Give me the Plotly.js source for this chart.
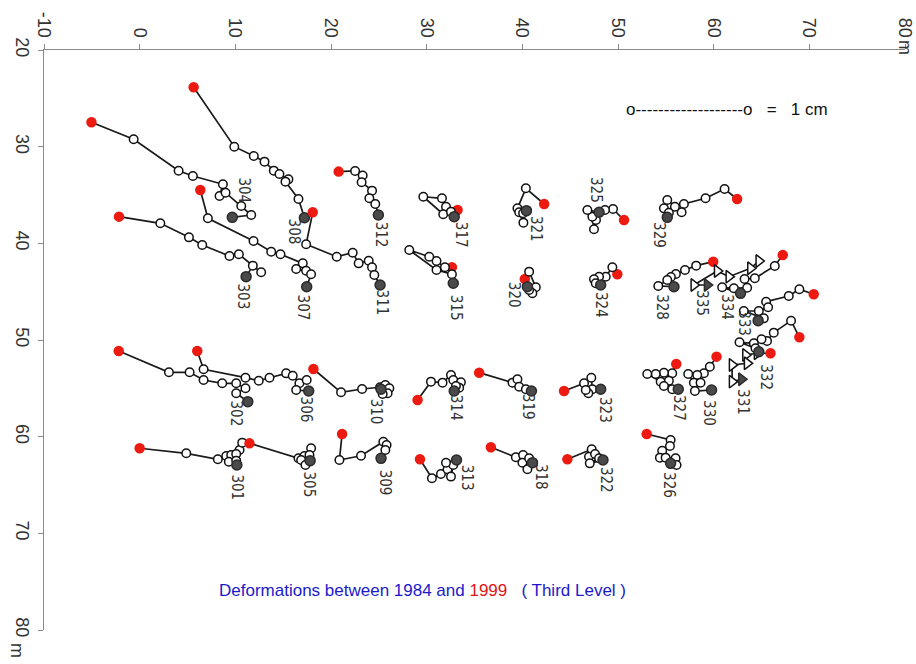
<!DOCTYPE html>
<html>
<head>
<meta charset="utf-8">
<script src="https://cdn.plot.ly/plotly-3.0.1.min.js"></script>
<style>html,body{margin:0;padding:0;background:#fff;}#chart{width:916px;height:664px;}</style>
</head>
<body>
<div id="chart"></div>
<script>
// ---- axis ticks ----
const xTickVals = [-10, 0, 10, 20, 30, 40, 50, 60, 70, 80];
const xTickText = ['-10', '0', '10', '20', '30', '40', '50', '60', '70', '80'];
const yTickVals = [20, 30, 40, 50, 60, 70, 80];
const yTickText = ['20', '30', '40', '50', '60', '70', '80'];
const unitText = 'm';

// ---- station paths (metres). first point = 1999 (red) unless noted, last point = 1984 (dark) ----
const x301 = [0.0, 4.87, 8.17, 9.05, 9.57, 10.44, 10.72, 10.09, 9.32, 10.09, 10.16];
const y301 = [61.20, 61.72, 62.34, 62.0, 61.89, 61.38, 60.62, 61.79, 62.59, 62.48, 62.93];
const x302 = [-2.19, 3.06, 5.22, 6.68, 8.63, 10.09, 11.06, 10.09, 11.30];
const y302 = [51.14, 53.34, 53.34, 54.14, 54.48, 54.48, 55.0, 55.51, 56.38];
const x303 = [-2.16, 2.16, 5.15, 6.54, 9.39, 10.37, 12.70, 11.83, 11.13];
const y303 = [37.24, 37.93, 39.38, 40.17, 41.31, 41.13, 43.0, 42.31, 43.45];
const x304 = [-5.04, -0.63, 4.07, 5.56, 8.70, 8.35, 8.98, 10.62, 11.66, 9.68];
const y304 = [27.48, 29.24, 32.49, 33.03, 33.89, 35.10, 34.76, 36.14, 37.07, 37.31];
const x305 = [11.48, 16.60, 17.22, 17.92, 17.75, 16.88, 17.33, 17.82];
const y305 = [60.69, 62.24, 62.0, 61.20, 61.89, 62.41, 62.93, 62.48];
const x306 = [6.02, 6.68, 11.06, 12.45, 13.57, 15.31, 16.0, 16.70, 17.46, 16.36, 17.67];
const y306 = [51.14, 53.03, 53.90, 54.21, 53.90, 53.45, 53.69, 54.48, 54.14, 55.17, 55.28];
const x307 = [6.34, 7.13, 11.90, 13.75, 14.72, 17.05, 16.36, 17.40, 17.92, 17.46];
const y307 = [34.48, 37.41, 39.76, 40.87, 41.13, 42.07, 42.66, 42.83, 43.20, 44.49];
const x308 = [5.64, 9.89, 11.93, 13.05, 14.02, 14.61, 15.55, 15.24, 16.60, 17.22];
const y308 = [23.86, 30.00, 30.96, 31.55, 32.48, 32.83, 33.38, 33.62, 35.41, 37.35];
const x309 = [21.16, 20.88, 23.14, 25.47, 25.81, 25.68, 25.23];
const y309 = [59.72, 62.41, 61.97, 60.52, 60.86, 61.38, 62.24];
const x310 = [18.16, 21.05, 23.25, 25.13, 25.68, 26.10, 25.92, 25.40, 25.23];
const y310 = [53.0, 55.41, 55.07, 54.89, 54.65, 55.0, 55.51, 55.58, 55.10];
const x311 = [18.09, 17.40, 20.60, 22.27, 22.89, 23.94, 24.29, 24.53, 25.13];
const y311 = [36.79, 40.10, 41.38, 40.97, 42.07, 41.80, 42.48, 43.28, 44.31];
const x312 = [20.80, 22.52, 23.31, 23.20, 24.29, 24.01, 24.63, 24.95];
const y312 = [32.58, 32.51, 32.99, 33.68, 34.55, 35.34, 35.93, 37.07];
const x313 = [29.30, 30.55, 31.49, 32.18, 32.54, 32.78, 32.02, 33.12];
const y313 = [62.34, 64.30, 63.86, 63.37, 64.13, 62.93, 62.69, 62.41];
const x314 = [29.05, 30.45, 31.66, 32.54, 32.78, 33.58, 33.40, 33.06, 32.88];
const y314 = [56.21, 54.31, 54.41, 53.62, 54.14, 54.37, 54.93, 54.76, 55.28];
const x315 = [32.64, 31.91, 31.03, 30.27, 28.18, 31.03, 32.64, 32.78];
const y315 = [42.48, 42.48, 41.83, 41.38, 40.69, 42.76, 43.20, 44.13];
const x317 = [33.23, 32.02, 31.60, 29.65, 31.73, 32.54, 32.88];
const y317 = [36.55, 36.21, 35.34, 35.18, 36.99, 36.72, 37.24];
const x318 = [36.71, 39.32, 40.08, 40.01, 40.53, 40.71, 41.06];
const y318 = [61.10, 62.13, 61.89, 62.69, 63.37, 62.24, 62.69];
const x319 = [35.49, 38.97, 39.49, 39.67, 40.37, 40.95];
const y319 = [53.38, 54.41, 54.06, 54.83, 55.10, 55.28];
const x320 = [40.26, 40.71, 41.41, 41.05, 40.71, 40.53];
const y320 = [43.69, 42.93, 44.55, 45.17, 44.83, 44.49];
const x321 = [42.28, 40.37, 39.49, 39.67, 40.11, 40.08, 40.43];
const y321 = [35.93, 34.31, 36.38, 36.79, 37.86, 36.89, 36.62];
const x322 = [44.71, 47.25, 46.97, 47.60, 48.02, 47.05, 48.43];
const y322 = [62.34, 61.30, 62.07, 61.79, 62.24, 62.76, 62.41];
const x323 = [44.36, 46.45, 47.21, 47.32, 46.90, 46.63, 48.19];
const y323 = [55.28, 54.48, 53.90, 55.10, 55.51, 55.17, 55.10];
const x324 = [49.93, 49.41, 48.72, 48.02, 47.49, 47.67, 48.19];
const y324 = [43.20, 42.48, 43.45, 43.45, 43.72, 44.13, 44.31];
const x325 = [50.63, 49.48, 48.64, 47.70, 47.49, 47.32, 46.80, 48.02];
const y325 = [37.59, 36.45, 36.55, 37.59, 38.55, 37.24, 36.55, 36.79];
const x326 = [53.0, 55.50, 55.43, 54.62, 54.38, 54.98, 56.02, 56.12, 55.50];
const y326 = [59.72, 60.34, 60.97, 61.45, 62.17, 62.17, 62.24, 62.93, 62.76];
const x327 = [56.09, 55.67, 54.80, 53.94, 53.06, 54.46, 55.32, 54.80, 55.67, 56.30];
const y327 = [52.48, 53.44, 53.38, 53.52, 53.52, 54.31, 54.21, 54.76, 55.10, 55.10];
const x328 = [59.95, 58.17, 57.0, 56.05, 55.53, 55.15, 54.21, 55.85];
const y328 = [41.90, 42.31, 42.76, 43.17, 43.48, 43.79, 44.41, 44.49];
const x329 = [62.45, 61.14, 59.15, 56.89, 56.65, 55.95, 55.15, 54.80, 55.32, 55.15];
const y329 = [35.41, 34.38, 35.34, 35.93, 36.79, 36.21, 35.52, 36.38, 36.83, 37.31];
const x330 = [60.30, 59.60, 58.98, 58.28, 57.34, 57.93, 58.63, 58.04, 59.78];
const y330 = [51.72, 52.76, 53.44, 53.62, 53.52, 54.42, 54.42, 55.28, 55.17];
const x331 = [65.94, 64.54, 63.33, 63.50, 61.93, 61.93, 62.91];
const y331 = [51.37, 51.37, 51.55, 52.41, 52.58, 54.31, 54.06];
const x332 = [68.96, 68.09, 66.28, 65.58, 65.0, 64.20, 62.70, 64.37, 64.72];
const y332 = [49.72, 48.0, 49.24, 50.10, 49.93, 50.34, 50.24, 50.86, 51.21];
const x333 = [70.46, 68.96, 67.85, 65.48, 65.69, 64.72, 63.15, 65.24, 64.65];
const y333 = [45.27, 44.75, 45.45, 46.04, 46.62, 47.0, 47.0, 47.76, 48.0];
const x334 = [67.22, 66.39, 64.30, 63.23, 63.50, 62.11, 60.89, 62.81];
const y334 = [41.21, 42.34, 43.62, 43.69, 44.59, 44.65, 44.55, 45.17];
const x335 = [64.72, 63.85, 61.59, 60.37, 57.93, 59.32];
const y335 = [41.83, 42.58, 43.45, 42.86, 44.31, 44.31];

// ---- station labels ----
const labelText = ['301','302','303','304','305','306','307','308','309','310','311','312','313','314','315','317','318','319','320','321','322','323','324','325','326','327','328','329','330','331','332','333','334','335'];
const labelX = [10.13, 10.02, 10.75, 10.96, 17.75, 17.43, 17.12, 16.18, 25.68, 24.74, 25.37, 25.26, 34.24, 33.09, 33.09, 33.61, 41.96, 40.61, 39.14, 41.44, 48.75, 48.64, 48.23, 47.70, 55.32, 56.37, 54.59, 54.28, 59.50, 63.05, 65.45, 63.15, 61.38, 58.77];
const labelY = [65.21, 57.55, 45.45, 34.48, 65.0, 57.24, 46.69, 38.83, 64.79, 57.45, 46.17, 39.14, 64.27, 57.03, 46.69, 39.14, 64.17, 56.93, 45.34, 38.52, 64.48, 57.24, 46.38, 34.48, 65.0, 57.03, 46.59, 39.14, 57.55, 56.41, 53.83, 48.24, 46.59, 46.17];

const stations = [
  {x:x301,y:y301},{x:x302,y:y302},{x:x303,y:y303},{x:x304,y:y304},{x:x305,y:y305},
  {x:x306,y:y306},{x:x307,y:y307},{x:x308,y:y308},{x:x309,y:y309},{x:x310,y:y310},
  {x:x311,y:y311},{x:x312,y:y312},{x:x313,y:y313},{x:x314,y:y314},{x:x315,y:y315},
  {x:x317,y:y317},{x:x318,y:y318},{x:x319,y:y319},{x:x320,y:y320},{x:x321,y:y321},
  {x:x322,y:y322},{x:x323,y:y323},{x:x324,y:y324},{x:x325,y:y325},{x:x326,y:y326},
  {x:x327,y:y327},{x:x328,y:y328},{x:x329,y:y329},{x:x330,y:y330},
  {x:x331,y:y331,tri:true},{x:x332,y:y332},{x:x333,y:y333},{x:x334,y:y334},
  {x:x335,y:y335,tri:true,noRed:true}
];

const RED = '#ec1a10';
const DARK = '#4a4a4a';

const traces = stations.map(s => {
  const n = s.x.length;
  const sym = s.tri ? 'triangle-right' : 'circle';
  const fill = [], edge = [], symbols = [], sizes = [];
  for (let i = 0; i < n; i++) {
    if (i === 0 && !s.noRed) { fill.push(RED); edge.push(RED); symbols.push('circle'); sizes.push(9); }
    else if (i === n - 1) { fill.push(DARK); edge.push('#2a2a2a'); symbols.push(sym); sizes.push(s.tri ? 11 : 10); }
    else { fill.push('#ffffff'); edge.push('#111111'); symbols.push(sym); sizes.push(s.tri ? 11 : 8.5); }
  }
  return {
    type: 'scatter', mode: 'lines+markers', x: s.x, y: s.y,
    line: {color: '#1a1a1a', width: 1.7},
    marker: {color: fill, size: sizes, symbol: symbols, opacity: 1, line: {color: edge, width: 1.5}},
    hoverinfo: 'skip', showlegend: false
  };
});

const annotations = labelText.map((t, i) => ({
  x: labelX[i], y: labelY[i], xref: 'x', yref: 'y', text: t, showarrow: false,
  textangle: 90, font: {family: 'DejaVu Sans Condensed, DejaVu Sans, sans-serif', size: 15, color: '#333'}
}));

annotations.push({
  x: 50.6, y: 26.2, xref: 'x', yref: 'y', xanchor: 'left', yanchor: 'middle', showarrow: false,
  text: 'o' + '-'.repeat(19) + 'o\u00a0\u00a0\u00a0=\u00a0\u00a0\u00a01 cm',
  font: {family: 'Liberation Sans, Arial, sans-serif', size: 17, color: '#111'}
});
annotations.push({
  x: 29.6, y: 75.9, xref: 'x', yref: 'y', xanchor: 'center', yanchor: 'middle', showarrow: false,
  text: 'Deformations between 1984 and <span style="color:#e01414">1999</span>\u00a0\u00a0\u00a0( Third Level )',
  font: {family: 'Liberation Sans Narrow, Arial Narrow, Liberation Sans, sans-serif', size: 17, color: '#1a1acc'}
});
annotations.push({
  x: 80, y: 1, xref: 'x', yref: 'paper', yshift: 3, showarrow: false, textangle: 90,
  xanchor: 'center', yanchor: 'middle', text: unitText,
  font: {family: 'Liberation Sans, Arial, sans-serif', size: 18, color: '#333'}
});
annotations.push({
  x: 0, y: 80, xref: 'paper', yref: 'y', xshift: -27, yshift: -20, showarrow: false, textangle: 90,
  xanchor: 'center', yanchor: 'middle', text: unitText,
  font: {family: 'Liberation Sans, Arial, sans-serif', size: 18, color: '#333'}
});

const axisCommon = {
  showgrid: false, zeroline: false, showline: true, linecolor: '#8a8a8a', linewidth: 1,
  ticks: 'outside', ticklen: 5, tickcolor: '#8a8a8a', tickangle: 90,
  tickfont: {family: 'Liberation Sans, Arial, sans-serif', size: 18, color: '#333'}
};

const layout = {
  width: 916, height: 664,
  margin: {l: 44, r: 11, t: 50, b: 34},
  paper_bgcolor: '#ffffff', plot_bgcolor: '#ffffff',
  xaxis: Object.assign({}, axisCommon, {range: [-10, 80], side: 'top', tickmode: 'array', tickvals: xTickVals, ticktext: xTickText}),
  yaxis: Object.assign({}, axisCommon, {range: [80, 20], tickmode: 'array', tickvals: yTickVals, ticktext: yTickText}),
  annotations: annotations,
  showlegend: false
};

Plotly.newPlot('chart', traces, layout, {staticPlot: true, displayModeBar: false});
</script>
</body>
</html>
